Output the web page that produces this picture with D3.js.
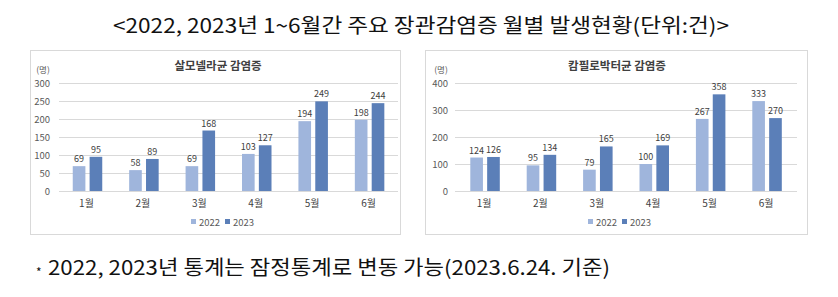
<!DOCTYPE html>
<html>
<head>
<meta charset="utf-8">
<script src="https://cdn.jsdelivr.net/npm/d3@7"></script>
<style>
  body { margin: 0; background: #fff; }
  svg { display: block; font-family: "Noto Sans CJK KR", "Noto Sans", sans-serif; }
</style>
</head>
<body>
<svg id="chart" width="838" height="297"></svg>
<script>
// data
var months = ["1월", "2월", "3월", "4월", "5월", "6월"];
var years = ["2022", "2023"];
var salmonella2022 = [69, 58, 69, 103, 194, 198];
var salmonella2023 = [95, 89, 168, 127, 249, 244];
var campylo2022 = [124, 95, 79, 100, 267, 333];
var campylo2023 = [126, 134, 165, 169, 358, 270];
var salmonellaTicks = [0, 50, 100, 150, 200, 250, 300];
var campyloTicks = [0, 100, 200, 300, 400];

var color = d3.scaleOrdinal().domain(years).range(["#9fb5dc", "#5b7fb8"]);

var svg = d3.select("#chart");

svg.append("text")
  .attr("x", 113).attr("y", 33)
  .attr("font-size", 20)
  .attr("fill", "#111")
  .attr("textLength", 616)
  .attr("lengthAdjust", "spacingAndGlyphs")
  .text("<2022, 2023년 1~6월간 주요 장관감염증 월별 발생현황(단위:건)>");

// footnote, small star then the text
svg.append("text")
  .attr("x", 36).attr("y", 277)
  .attr("font-size", 12).attr("fill", "#111")
  .text("*");
svg.append("text")
  .attr("x", 48).attr("y", 275)
  .attr("font-size", 20)
  .attr("fill", "#111")
  .attr("textLength", 562)
  .attr("lengthAdjust", "spacingAndGlyphs")
  .text("2022, 2023년 통계는 잠정통계로 변동 가능(2023.6.24. 기준)");

function panel(opt) {
  var g = svg.append("g");
  g.append("rect")
    .attr("x", opt.box[0] + 0.5).attr("y", 50.5)
    .attr("width", opt.box[1] - opt.box[0]).attr("height", 184)
    .attr("fill", "#fff").attr("stroke", "#d9d9d9");

  g.append("text")
    .attr("x", opt.titleX).attr("y", 70)
    .attr("text-anchor", "middle")
    .attr("font-size", 11.5).attr("font-weight", "bold")
    .attr("fill", "#404040")
    .text(opt.title);

  g.append("text")
    .attr("x", opt.unitX).attr("y", 73)
    .attr("text-anchor", "middle")
    .attr("font-size", 8.5).attr("fill", "#595959")
    .text("(명)");

  var y = d3.scaleLinear().domain([0, d3.max(opt.ticks)]).range([191, 83]);
  var x = d3.scaleBand().domain(months).range(opt.xr);
  var xs = d3.scaleBand().domain(years).range([13.5, 43]).paddingInner(0.25);

  var yAxis = g.append("g")
    .attr("transform", "translate(" + opt.gridL + ",0)")
    .call(d3.axisLeft(y).tickValues(opt.ticks).tickSize(-(opt.gridR - opt.gridL)).tickPadding(opt.pad));
  yAxis.select(".domain").remove();
  yAxis.selectAll("line").attr("stroke", "#d9d9d9");
  yAxis.selectAll("text").attr("fill", "#595959").attr("font-size", 9.5)
    .attr("font-family", "'Noto Sans CJK KR', sans-serif");

  var rows = months.map(function (m, i) {
    return { m: m, vals: [{ k: "2022", v: opt.a[i] }, { k: "2023", v: opt.b[i] }] };
  });

  var grp = g.selectAll(".grp").data(rows).enter().append("g")
    .attr("transform", function (d) { return "translate(" + x(d.m) + ",0)"; });

  grp.selectAll("rect").data(function (d) { return d.vals; }).enter().append("rect")
    .attr("x", function (d) { return xs(d.k); })
    .attr("width", xs.bandwidth())
    .attr("y", function (d) { return y(d.v); })
    .attr("height", function (d) { return y(0) - y(d.v); })
    .attr("fill", function (d) { return color(d.k); });

  grp.selectAll(".lbl").data(function (d) { return d.vals; }).enter().append("text")
    .attr("class", "lbl")
    .attr("x", function (d) { return xs(d.k) + xs.bandwidth() / 2; })
    .attr("y", function (d) { return y(d.v) - 4; })
    .attr("text-anchor", "middle")
    .attr("font-size", 9).attr("fill", "#404040")
    .text(function (d) { return d.v; });

  g.selectAll(".xl").data(months).enter().append("text")
    .attr("x", function (d) { return x(d) + x.bandwidth() / 2 - 1; })
    .attr("y", 207)
    .attr("text-anchor", "middle")
    .attr("font-size", 10).attr("fill", "#404040")
    .text(function (d) { return d; });

  var leg = g.selectAll(".leg").data(years).enter().append("g")
    .attr("transform", function (d, i) { return "translate(" + (opt.legX + i * 34) + ",222)"; });
  leg.append("rect").attr("x", 0).attr("y", -3).attr("width", 5).attr("height", 5)
    .attr("fill", function (d) { return color(d); });
  leg.append("text").attr("x", 8).attr("y", 3.5)
    .attr("font-size", 9.5).attr("fill", "#595959")
    .text(function (d) { return d; });
}

panel({
  box: [30, 400], title: "살모넬라균 감염증", titleX: 218, unitX: 43,
  ticks: salmonellaTicks, gridL: 59, gridR: 398, pad: 9, xr: [59.25, 397.75],
  a: salmonella2022, b: salmonella2023, legX: 191
});
panel({
  box: [425, 807], title: "캄필로박터균 감염증", titleX: 617, unitX: 441,
  ticks: campyloTicks, gridL: 455, gridR: 797, pad: 7, xr: [456.8, 795.2],
  a: campylo2022, b: campylo2023, legX: 588
});
</script>
</body>
</html>
